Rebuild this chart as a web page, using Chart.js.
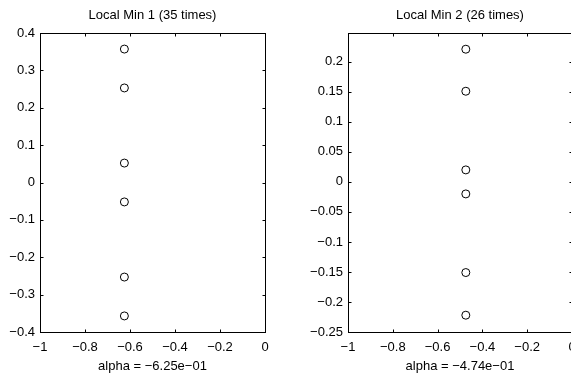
<!DOCTYPE html>
<html lang="en">
<head>
    <meta charset="UTF-8">
    <title>Local Min</title>
    <style>
        html, body {
            margin: 0;
            padding: 0;
            background: #fff;
            overflow: hidden;
            width: 571px;
            height: 376px;
        }
        canvas {
            position: absolute;
            top: 0;
        }
        #left { left: 0; }
        #right { left: 290px; }
    </style>
    <script src="https://cdn.jsdelivr.net/npm/chart.js"></script>
</head>
<body>
    <canvas id="left" width="285" height="376"></canvas>
    <canvas id="right" width="300" height="376"></canvas>

    <script>
        // data
        const xTicks = [-1, -0.8, -0.6, -0.4, -0.2, 0];

        const title1 = 'Local Min 1 (35 times)';
        const xLabel1 = 'alpha = \u22126.25e\u221201';
        const alpha1 = -0.625;
        const values1 = [0.357, 0.253, 0.052, -0.052, -0.253, -0.357];
        const yTicks1 = [-0.4, -0.3, -0.2, -0.1, 0, 0.1, 0.2, 0.3, 0.4];

        const title2 = 'Local Min 2 (26 times)';
        const xLabel2 = 'alpha = \u22124.74e\u221201';
        const alpha2 = -0.474;
        const values2 = [0.221, 0.151, 0.020, -0.020, -0.151, -0.222];
        const yTicks2 = [-0.25, -0.2, -0.15, -0.1, -0.05, 0, 0.05, 0.1, 0.15, 0.2];

        const font = { family: "'Liberation Sans', Arial, sans-serif", size: 13 };
        const fmt = v => String(v).replace('-', '\u2212');

        // matlab style box with inward ticks
        const boxPlugin = {
            id: 'box',
            afterDatasetsDraw(chart) {
                const { ctx, chartArea: a, scales } = chart;
                const L = Math.round(a.left) + 0.5, R = Math.round(a.right) + 0.5;
                const T = Math.round(a.top) + 0.5, B = Math.round(a.bottom) + 0.5;
                ctx.save();
                ctx.strokeStyle = '#000';
                ctx.lineWidth = 1;
                ctx.strokeRect(L, T, R - L, B - T);
                ctx.beginPath();
                scales.x.ticks.forEach(t => {
                    const px = Math.round(scales.x.getPixelForValue(t.value)) + 0.5;
                    ctx.moveTo(px, B); ctx.lineTo(px, B - 3);
                    ctx.moveTo(px, T); ctx.lineTo(px, T + 3);
                });
                scales.y.ticks.forEach(t => {
                    const py = Math.round(scales.y.getPixelForValue(t.value)) + 0.5;
                    ctx.moveTo(L, py); ctx.lineTo(L + 3, py);
                    ctx.moveTo(R, py); ctx.lineTo(R - 3, py);
                });
                ctx.stroke();
                ctx.restore();
            }
        };

        function makeChart(id, title, xLabel, alpha, values, yTicks, yMax, yWidth, padRight) {
            const points = values.map(v => ({ x: alpha, y: v }));
            return new Chart(document.getElementById(id), {
                type: 'scatter',
                data: {
                    datasets: [{
                        data: points,
                        xAxisID: 'x',
                        yAxisID: 'y',
                        pointStyle: 'circle',
                        pointRadius: 4,
                        pointBorderWidth: 1,
                        pointBorderColor: '#000',
                        pointBackgroundColor: 'rgba(0,0,0,0)'
                    }]
                },
                options: {
                    responsive: false,
                    animation: false,
                    devicePixelRatio: 1,
                    layout: { padding: { left: 0, right: padRight, top: 0, bottom: 0 } },
                    plugins: { legend: { display: false }, tooltip: { enabled: false } },
                    scales: {
                        x: {
                            type: 'linear',
                            position: 'bottom',
                            min: -1,
                            max: 0,
                            afterBuildTicks: s => { s.ticks = xTicks.map(v => ({ value: v })); },
                            afterFit: s => { s.height = 44; },
                            grid: { display: false, drawTicks: false },
                            border: { display: false },
                            ticks: { color: '#000', font: font, padding: 8, maxRotation: 0, autoSkip: false, callback: fmt },
                            title: { display: true, text: xLabel, color: '#000', font: font, padding: { top: 2, bottom: 2 } }
                        },
                        top: {
                            type: 'linear',
                            position: 'top',
                            min: -1,
                            max: 0,
                            afterFit: s => { s.height = 33; },
                            grid: { display: false, drawTicks: false },
                            border: { display: false },
                            ticks: { display: false },
                            title: { display: true, text: title, color: '#000', font: font, padding: { top: 8, bottom: 0 } }
                        },
                        y: {
                            type: 'linear',
                            position: 'left',
                            min: yTicks[0],
                            max: yMax,
                            afterBuildTicks: s => { s.ticks = yTicks.map(v => ({ value: v })); },
                            afterFit: s => { s.width = yWidth; },
                            grid: { display: false, drawTicks: false },
                            border: { display: false },
                            ticks: { color: '#000', font: font, padding: 5, autoSkip: false, callback: fmt }
                        }
                    }
                },
                plugins: [boxPlugin]
            });
        }

        makeChart('left', title1, xLabel1, alpha1, values1, yTicks1, 0.4, 40, 20);
        makeChart('right', title2, xLabel2, alpha2, values2, yTicks2, 0.248, 58, 18);
    </script>
</body>
</html>
